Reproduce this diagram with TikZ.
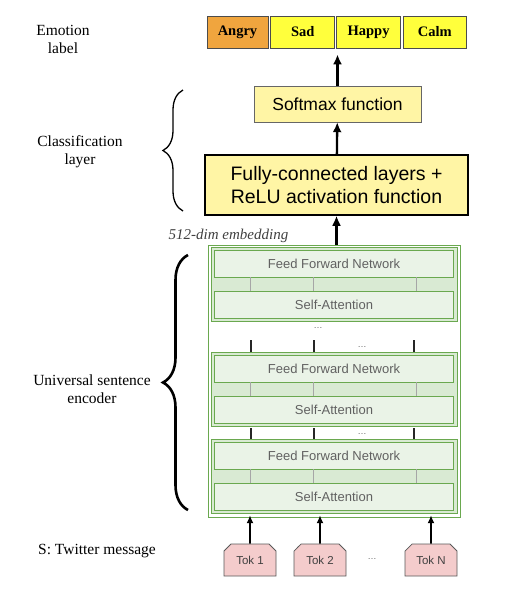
\documentclass[tikz,border=0pt]{standalone}
\usepackage{fontspec}
\setmainfont{Liberation Serif}
\setsansfont{Liberation Sans}
\usetikzlibrary{positioning,arrows.meta,shapes.misc,decorations.pathreplacing}
\definecolor{angryorange}{RGB}{240,165,62}
\definecolor{emoyellow}{RGB}{255,255,60}
\definecolor{softyellow}{RGB}{255,245,165}
\definecolor{usegreen}{RGB}{106,168,79}
\definecolor{blockgreen}{RGB}{217,234,211}
\definecolor{layergreen}{RGB}{234,243,231}
\definecolor{tokpink}{RGB}{244,204,204}
\tikzstyle{flow} = [draw, -{Latex[length=10pt,width=9pt]}, line width=2.3pt]
\tikzstyle{tokflow} = [draw, -{Latex[length=8pt,width=7pt]}, line width=1.7pt]

\begin{document}
\begin{tikzpicture}[
	x=1pt, y=-1pt,
	every node/.style={inner sep=0pt},
	node distance=2pt,
	caption/.style={
		align=center,
		font=\fontsize{15.5}{18}\selectfont,
	},
	emotion/.style={
		rectangle,
		minimum width=64pt,
		minimum height=32pt,
		draw=black!70,
		thick,
		fill=emoyellow,
		font=\bfseries\fontsize{14.5}{16}\selectfont,
	},
	dense/.style={
		rectangle,
		fill=softyellow,
		align=center,
		font=\sffamily,
	},
	encoder/.style={
		rectangle,
		minimum width=252pt,
		minimum height=272pt,
		draw=usegreen,
		fill=white,
	},
	block/.style={
		rectangle,
		minimum width=246pt,
		minimum height=74pt,
		draw=usegreen,
		fill=blockgreen,
	},
	layer/.style={
		rectangle,
		minimum width=239pt,
		minimum height=27pt,
		draw=usegreen,
		fill=layergreen,
		text=black!62,
		font=\sffamily\fontsize{13}{15}\selectfont,
	},
	token/.style={
		chamfered rectangle,
		chamfered rectangle corners={north west,north east},
		chamfered rectangle xsep=4pt,
		minimum width=52pt,
		minimum height=32pt,
		draw=black!65,
		thick,
		fill=tokpink,
		text=black!75,
		font=\sffamily\fontsize{11.5}{13}\selectfont,
	},
	sublayer/.style={draw=black!35, line width=1pt},
	skip/.style={draw=black!85, line width=1.8pt},
	etc/.style={text=black!60, font=\sffamily\fontsize{9}{10}\selectfont},
]
	\useasboundingbox (0,0) rectangle (518,590);

	% captions on the left
	\node (emolab) [caption] at (63,39) {Emotion\\label};
	\node (clslab) [caption] at (80,152) {Classification\\layer};
	\node (uselab) [caption] at (92,389) {Universal sentence\\encoder};
	\node (msglab) [caption] at (97,551) {S: Twitter message};

	% emotion labels
	\node (angry) [emotion,fill=angryorange,minimum width=61pt] at (237.5,32) {Angry};
	\node (sad) [emotion,right=of angry] {Sad};
	\node (happy) [emotion,right=1pt of sad] {Happy};
	\node (calm) [emotion,right=of happy,minimum width=63pt] {Calm};

	% classification layer
	\node (soft) [dense,draw=black!60,minimum width=167pt,minimum height=36pt,
		font=\sffamily\fontsize{17.5}{20}\selectfont] at (337.5,104)
		{Softmax function};
	\node (fc) [dense,draw=black,line width=1.5pt,minimum width=263pt,minimum height=60pt,
		font=\sffamily\fontsize{19.5}{23}\selectfont] at (336.5,185)
		{Fully-connected layers +\\ReLU activation function};
	\node (emb) [font=\itshape\fontsize{15}{17}\selectfont,text=black!75] at (228.5,236)
		{512-dim embedding};

	% universal sentence encoder
	\node (enc) [encoder] at (334,381) {};
	\node (blk1) [block] at (334,284) {};
	\node (ffn1) [layer,below=3pt of blk1.north] {Feed Forward Network};
	\node (sa1) [layer,above=3pt of blk1.south] {Self-Attention};
	\node (blk2) [block] at (334,389) {};
	\node (ffn2) [layer,below=3pt of blk2.north] {Feed Forward Network};
	\node (sa2) [layer,above=3pt of blk2.south] {Self-Attention};
	\node (blk3) [block] at (334,476) {};
	\node (ffn3) [layer,below=3pt of blk3.north] {Feed Forward Network};
	\node (sa3) [layer,above=3pt of blk3.south] {Self-Attention};
	\foreach \n in {1,2,3}
		\foreach \x in {250,313,416}
			\draw [sublayer] (\x,0 |- ffn\n.south) -- (\x,0 |- sa\n.north);
	\foreach \x in {251,314,414} {
		\draw [skip] (\x,340) -- (\x,0 |- blk2.north);
		\draw [skip] (\x,428) -- (\x,0 |- blk3.north);
	}
	\node (dots1) [etc] at (318,328) {\dots};
	\node (dots2) [etc] at (362,347) {\dots};
	\node (dots3) [etc] at (362,434) {\dots};

	% input tokens
	\node (tok1) [token] at (250,560) {Tok 1};
	\node (tok2) [token] at (320,560) {Tok 2};
	\node (tokdots) [etc] at (372,559) {\dots};
	\node (tokn) [token] at (431,560) {Tok N};

	% braces
	\draw [line width=1.3pt,decorate,decoration={brace,amplitude=20pt}]
		(183,211) -- (183,90);
	\draw [line width=2.6pt,decorate,decoration={brace,amplitude=25pt}]
		(188,510) -- (188,255);

	\draw [tokflow,shorten >=-2pt] (tok1) -- (tok1 |- enc.south);
	\draw [tokflow,shorten >=-2pt] (tok2) -- (tok2 |- enc.south);
	\draw [tokflow,shorten >=-2pt] (tokn) -- (tokn |- enc.south);
	\draw [flow] (fc.south |- enc.north) -- (fc);
	\draw [flow] (fc) -- (soft);
	\draw [flow,shorten >=6pt] (soft) -- (soft.north |- sad.south);

\end{tikzpicture}
\end{document}
